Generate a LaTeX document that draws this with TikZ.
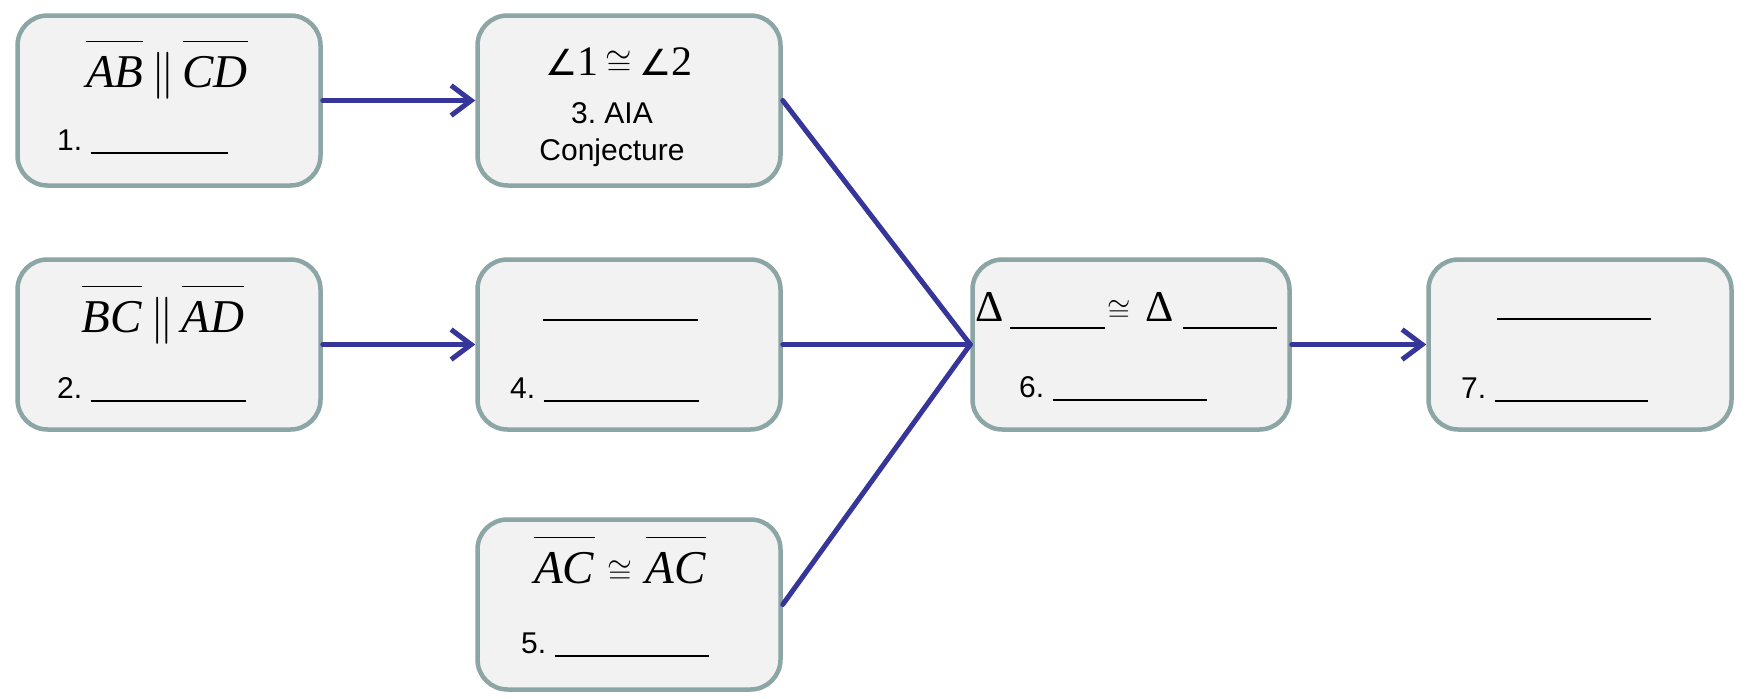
\RequirePackage{fix-cm}
\documentclass[tikz,border=0pt]{standalone}
\usepackage{fontspec}
\setmainfont{Liberation Serif}
\newfontfamily\arial{Liberation Sans}
\newfontfamily\dejavu{DejaVu Sans}
\usetikzlibrary{arrows.meta}
\definecolor{boxfill}{HTML}{F2F2F2}
\definecolor{boxedge}{HTML}{8CA5A5}
\definecolor{arrowblue}{HTML}{35359A}
\frenchspacing
\newcommand{\blank}[1]{\rule[-4pt]{#1}{1.6pt}}
\newcommand{\seg}[1]{\overline{\hbox{\rule{0pt}{44pt}\textit{#1}}}}
\newcommand{\scong}[1]{\hbox{\fontsize{#1}{#1}\selectfont$\cong$}}
\newcommand{\ang}{\hbox{\dejavu\fontsize{36}{36}\selectfont ∠}}
\tikzset{
  card/.style={draw=boxedge, line width=4.5pt, fill=boxfill, rounded corners=30pt,
    minimum width=303pt, minimum height=170pt, inner sep=0pt},
  conn/.style={draw=arrowblue, line width=5pt, line cap=round},
  arr/.style={conn, -{Straight Barb[length=20pt,width=30pt,line width=5pt]}},
  mathtxt/.style={font=\fontsize{47}{52}\selectfont, inner sep=0pt, anchor=base},
  lab/.style={font=\arial\fontsize{30}{34}\selectfont, inner sep=0pt, anchor=base west},
  blankline/.style={inner sep=0pt, anchor=west},
}
\begin{document}
\begin{tikzpicture}[x=1pt,y=-1pt]
\useasboundingbox (0,0) rectangle (1749,699);
% boxes
\node[card] (b1) at (169,100.5) {};
\node[card] (b3) at (629,100.5) {};
\node[card] (b2) at (169,344.5) {};
\node[card] (b4) at (629,344.5) {};
\node[card] (b5) at (629,604.5) {};
\node[card, minimum width=317pt] (b6) at (1131,344.5) {};
\node[card] (b7) at (1580,344.5) {};
% connectors
\draw[arr] (b1) -- (b3);
\draw[arr] (b2) -- (b4);
\draw[conn] (b3.east) -- (b6.west);
\draw[conn] (b4.east) -- (b6.west);
\draw[conn] (b5.east) -- (b6.west);
\draw[arr] (b6) -- (b7);
% box 1
\node[mathtxt] (t1) at (167,87) {$\seg{AB}\,\|\,\seg{CD}$};
\node[lab] (l1) at (57,150) {1. \blank{137pt}};
% box 2
\node[mathtxt] (t2) at (163,332) {$\seg{BC}\,\|\,\seg{AD}$};
\node[lab] (l2) at (57,398) {2. \blank{155pt}};
% box 3
\node[mathtxt, font=\fontsize{42}{46}\selectfont] (t3) at (619,75) {$\ang\textrm{1}\,\scong{34}\,\ang\textrm{2}$};
\node[inner sep=0pt, anchor=base, font=\arial\fontsize{30}{34}\selectfont] (l3a) at (612,123) {3. AIA};
\node[inner sep=0pt, anchor=base, font=\arial\fontsize{30}{34}\selectfont] (l3b) at (612,160) {Conjecture};
% box 4
\node[blankline] (u4) at (543,320) {\rule{155pt}{1.6pt}};
\node[lab] (l4) at (510,398) {4. \blank{155pt}};
% box 5
\node[mathtxt] (t5) at (620,583) {$\seg{AC}\;\scong{32}\;\seg{AC}$};
\node[lab] (l5) at (521,653) {5. \blank{154pt}};
% box 6
\node[inner sep=0pt, anchor=base west, font=\fontsize{44}{48}\selectfont] (d1) at (975,321) {Δ};
\node[blankline] (u6a) at (1010,328) {\rule{95pt}{1.6pt}};
\node[inner sep=0pt, anchor=base] (c6) at (1119,321) {\scong{30}};
\node[inner sep=0pt, anchor=base west, font=\fontsize{44}{48}\selectfont] (d2) at (1145,321) {Δ};
\node[blankline] (u6b) at (1183,328) {\rule{94pt}{1.6pt}};
\node[lab] (l6) at (1019,397) {6. \blank{154pt}};
% box 7
\node[blankline] (u7) at (1497,319) {\rule{154pt}{1.6pt}};
\node[lab] (l7) at (1461,398) {7. \blank{153pt}};
\end{tikzpicture}
\end{document}
